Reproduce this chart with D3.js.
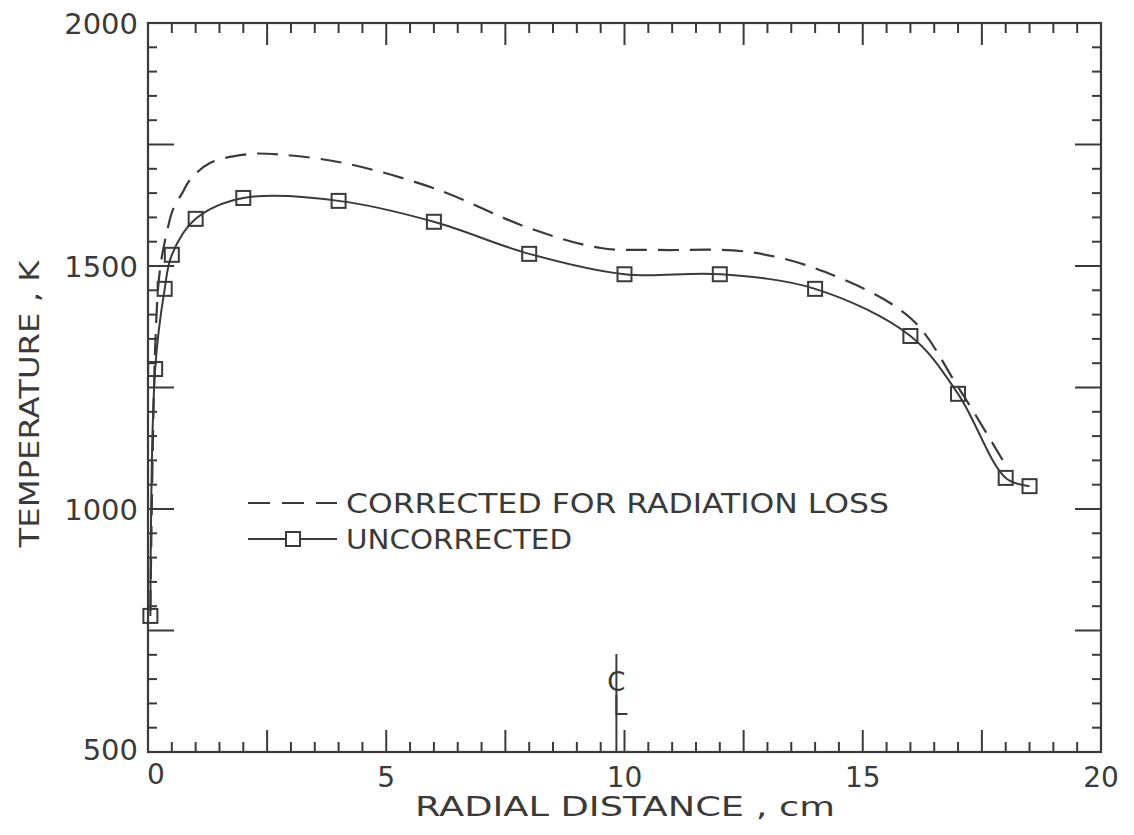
<!DOCTYPE html>
<html><head><meta charset="utf-8">
<script src="https://cdn.jsdelivr.net/npm/d3@7"></script>
<style>body{margin:0;background:#fff}svg{display:block}</style>
</head><body>
<svg id="c" width="1134" height="835"></svg>
<script>
// Data
const uncorrX = [0.05, 0.15, 0.35, 0.5, 1, 2, 4, 6, 8, 10, 12, 14, 16, 17, 18, 18.5];
const uncorrT = [780, 1288, 1453, 1523, 1597, 1640, 1634, 1591, 1525, 1483, 1483, 1453, 1356, 1237, 1064, 1047];
const corrX = [0.05, 0.15, 0.25, 0.42, 0.52, 0.73, 0.88, 1.3, 2.1, 2.5, 4, 6, 8, 9.5, 10.7, 12.6, 14.2, 16, 17, 18];
const corrT = [790, 1330, 1492, 1580, 1615, 1652, 1677, 1712, 1730, 1731, 1714, 1660, 1578, 1537, 1533, 1529, 1488, 1393, 1251, 1090];
const xTickLabels = [0, 5, 10, 15, 20];
const yTickLabels = [500, 1000, 1500, 2000];
const legendLabels = ["CORRECTED FOR RADIATION LOSS", "UNCORRECTED"];
const xTitle = "RADIAL DISTANCE , cm";
const yTitle = "TEMPERATURE , K";

const svg = d3.select("#c");
const L = 148, R = 1101, T = 23, B = 752;
const x = d3.scaleLinear().domain([0, 20]).range([L, R]);
const y = d3.scaleLinear().domain([500, 2000]).range([B, T]);
const ink = "#3a3a3a";
const font = "'DejaVu Sans', 'Liberation Sans', sans-serif";
const legendWidths = [543, 226];

// frame
svg.append("rect").attr("x", L).attr("y", T).attr("width", R - L).attr("height", B - T)
  .attr("fill", "none").attr("stroke", ink).attr("stroke-width", 2.2);

// ticks
const g = svg.append("g").attr("stroke", ink).attr("stroke-width", 2);
const xt = d3.range(0, 20.001, 0.5);
xt.forEach(v => {
  const major = Math.abs(v / 2.5 - Math.round(v / 2.5)) < 1e-6;
  const len = major ? 22 : 10;
  if (v > 0 && v < 20) {
    g.append("line").attr("x1", x(v)).attr("x2", x(v)).attr("y1", B).attr("y2", B - len);
    g.append("line").attr("x1", x(v)).attr("x2", x(v)).attr("y1", T).attr("y2", T + len);
  }
});
const yt = d3.range(500, 2000.1, 50);
yt.forEach(v => {
  const major = v % 250 === 0;
  const len = major ? 26 : 9;
  if (v > 500 && v < 2000) {
    g.append("line").attr("x1", L).attr("x2", L + len).attr("y1", y(v)).attr("y2", y(v));
    g.append("line").attr("x1", R).attr("x2", R - len).attr("y1", y(v)).attr("y2", y(v));
  }
});

// tick labels
svg.append("g").selectAll("text").data(xTickLabels).join("text")
  .attr("x", d => x(d) + (d === 0 ? 8 : 0)).attr("y", d => d === 0 ? 784 : 787)
  .attr("text-anchor", "middle").attr("font-family", font).attr("font-size", 28)
  .attr("fill", ink).text(d => d);
svg.append("g").selectAll("text").data(yTickLabels).join("text")
  .attr("x", 138).attr("y", d => y(d) + (d === 500 ? 8 : 11))
  .attr("text-anchor", "end").attr("font-family", font).attr("font-size", 29)
  .attr("fill", ink).text(d => d);

// axis titles
svg.append("text").attr("x", 625).attr("y", 816).attr("text-anchor", "middle")
  .attr("font-family", font).attr("font-size", 27).attr("fill", ink)
  .attr("textLength", 420).attr("lengthAdjust", "spacingAndGlyphs").text(xTitle);
svg.append("text").attr("transform", "translate(39,404) rotate(-90)").attr("text-anchor", "middle")
  .attr("font-family", font).attr("font-size", 27).attr("fill", ink)
  .attr("textLength", 287).attr("lengthAdjust", "spacingAndGlyphs").text(yTitle);

// centerline symbol
const cx = x(9.83);
svg.append("line").attr("x1", cx).attr("x2", cx).attr("y1", 654).attr("y2", B)
  .attr("stroke", ink).attr("stroke-width", 2);
svg.append("text").attr("x", cx).attr("y", 691).attr("text-anchor", "middle")
  .attr("font-family", font).attr("font-size", 26).attr("fill", ink).text("C");
svg.append("path").attr("d", `M${cx},695 L${cx},714 L${cx + 11},714`)
  .attr("fill", "none").attr("stroke", ink).attr("stroke-width", 2);

// curves
const line = d3.line().x(d => x(d[0])).y(d => y(d[1])).curve(d3.curveCatmullRom.alpha(0.5));
const corr = corrX.map((v, i) => [v, corrT[i]]);
const unc = uncorrX.map((v, i) => [v, uncorrT[i]]);
svg.append("path").attr("d", line(corr)).attr("fill", "none").attr("stroke", ink)
  .attr("stroke-width", 2.2).attr("stroke-dasharray", "21,11");
svg.append("path").attr("d", line(unc)).attr("fill", "none").attr("stroke", ink)
  .attr("stroke-width", 2);
const s = 14;
svg.append("g").selectAll("rect").data(unc).join("rect")
  .attr("x", d => x(d[0]) - s / 2).attr("y", d => y(d[1]) - s / 2)
  .attr("width", s).attr("height", s).attr("fill", "none")
  .attr("stroke", ink).attr("stroke-width", 2);

// legend
svg.append("line").attr("x1", 248).attr("x2", 337).attr("y1", 503).attr("y2", 503)
  .attr("stroke", ink).attr("stroke-width", 2).attr("stroke-dasharray", "22,12");
svg.append("line").attr("x1", 248).attr("x2", 337).attr("y1", 539).attr("y2", 539)
  .attr("stroke", ink).attr("stroke-width", 2);
svg.append("rect").attr("x", 286).attr("y", 532).attr("width", 14).attr("height", 14)
  .attr("fill", "#fff").attr("stroke", ink).attr("stroke-width", 2);
svg.append("g").selectAll("text").data(legendLabels).join("text")
  .attr("x", 346).attr("y", (d, i) => 513 + i * 36)
  .attr("font-family", font).attr("font-size", 27).attr("fill", ink)
  .attr("textLength", (d, i) => legendWidths[i]).attr("lengthAdjust", "spacingAndGlyphs")
  .text(d => d);
</script>
</body></html>
